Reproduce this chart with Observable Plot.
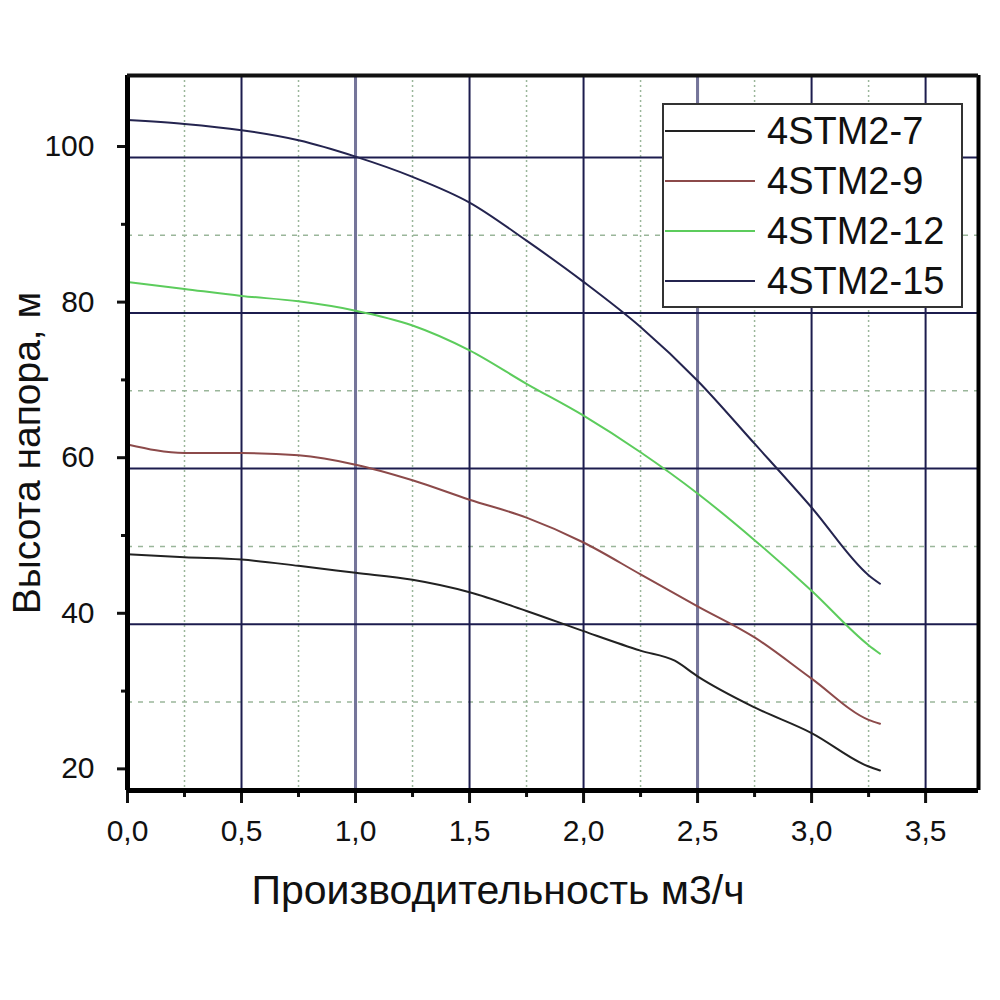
<!DOCTYPE html>
<html>
<head>
<meta charset="utf-8">
<script src="https://cdn.jsdelivr.net/npm/d3@7"></script>
<script src="https://cdn.jsdelivr.net/npm/@observablehq/plot@0.6"></script>
<style>
  body { margin: 0; background: #fff; font-family: "Liberation Sans", Arial, sans-serif; }
  #wrap { position: relative; width: 1000px; height: 1000px; }
  #legend { position: absolute; left: 662px; top: 103px; width: 297px; height: 201px;
            border: 2px solid #333; background: #fff; }
  .row { position: absolute; left: 0; width: 297px; height: 50px; }
  .row .ln { position: absolute; left: 1px; top: 24px; width: 90px; height: 2px; }
  .row .tx { position: absolute; left: 103px; top: 0; font-size: 38px; line-height: 50px; color: #111; white-space: nowrap; }
</style>
</head>
<body>
<div id="wrap"><div id="chart"></div><div id="legend"></div></div>
<script>
// ---- data ----
const models = ["4STM2-7", "4STM2-9", "4STM2-12", "4STM2-15"];
const colors = ["#222222", "#8c4a4a", "#5ccc5c", "#24244f"];

const flow = [0, 0.25, 0.5, 0.75, 1.0, 1.25, 1.5, 1.75, 2.0, 2.25, 2.5, 2.75, 3.0, 3.25, 3.3];
const flow7 = [0, 0.25, 0.5, 0.75, 1.0, 1.25, 1.5, 1.75, 2.0, 2.25, 2.4, 2.5, 2.75, 3.0, 3.25, 3.3];

const head7  = [47.6, 47.2, 46.9, 46.1, 45.2, 44.3, 42.7, 40.3, 37.7, 35.2, 33.9, 31.9, 27.9, 24.6, 20.3, 19.8];
const head9  = [61.7, 60.6, 60.6, 60.3, 59.1, 57.1, 54.6, 52.3, 49.1, 45.0, 40.9, 36.9, 31.6, 26.3, 25.8];
const head12 = [82.6, 81.7, 80.8, 80.1, 78.9, 77.0, 73.8, 69.5, 65.4, 60.7, 55.4, 49.4, 42.9, 35.9, 34.8];
const head15 = [103.4, 102.9, 102.1, 100.8, 98.7, 96.1, 92.8, 87.9, 82.6, 76.8, 69.9, 61.8, 53.6, 44.9, 43.8];

const xTicks = [0, 0.5, 1.0, 1.5, 2.0, 2.5, 3.0, 3.5];
const xMinorTicks = [0.25, 0.75, 1.25, 1.75, 2.25, 2.75, 3.25];
const yTicks = [20, 40, 60, 80, 100];
const yMinorTicks = [30, 50, 70, 90];
// grid lines in the reference are drawn slightly below the tick marks
const yGridMajor = [98.6, 78.6, 58.6, 38.6];
const yGridMinor = [88.6, 68.6, 48.6, 28.6];
const xGridBlurred = [1.0, 2.5];

const xDomain = [0, 3.732];
const yDomain = [17.22, 109.13];

const xTitle = "Производительность м3/ч";
const yTitle = "Высота напора, м";

// ---- build table ----
const rows = [];
const series = [[flow7, head7], [flow, head9], [flow, head12], [flow, head15]];
series.forEach(([qs, hs], i) => qs.forEach((q, j) => rows.push({model: models[i], q, h: hs[j]})));

const fmt = d => d.toFixed(1).replace(".", ",");
const font = "Liberation Sans, Arial, sans-serif";

const chart = Plot.plot({
  width: 1000, height: 1000,
  marginLeft: 127, marginRight: 22, marginTop: 75, marginBottom: 210,
  style: {fontFamily: font, fontSize: "30px", background: "#fff", color: "#111", overflow: "visible"},
  x: {domain: xDomain},
  y: {domain: yDomain},
  color: {domain: models, range: colors},
  marks: [
    Plot.ruleX(xMinorTicks, {stroke: "#9ab69a", strokeWidth: 1.5, strokeDasharray: "2,3"}),
    Plot.ruleY(yGridMinor, {stroke: "#9ab69a", strokeWidth: 1.5, strokeDasharray: "5,6"}),
    Plot.ruleX(xTicks.slice(1), {stroke: "#1c1c4e", strokeWidth: 2}),
    Plot.ruleX(xGridBlurred, {stroke: "#75759a", strokeWidth: 3}),
    Plot.ruleY(yGridMajor, {stroke: "#1c1c4e", strokeWidth: 2}),
    Plot.line(rows, {x: "q", y: "h", z: "model", stroke: "model", strokeWidth: 2, curve: "monotone-x"}),
    Plot.axisX({ticks: xTicks, tickSize: 13, tickPadding: 16, tickFormat: fmt, strokeWidth: 3, label: null}),
    Plot.axisX({ticks: xMinorTicks, tickSize: 7, text: null, strokeWidth: 3, label: null}),
    Plot.axisY({ticks: yTicks, tickSize: 10, tickPadding: 23, strokeWidth: 3, label: null}),
    Plot.axisY({ticks: yMinorTicks, tickSize: 6, text: null, strokeWidth: 3, label: null}),
    Plot.ruleX([xDomain[0]], {stroke: "#000", strokeWidth: 5}),
    Plot.ruleX([xDomain[1]], {stroke: "#000", strokeWidth: 4}),
    Plot.ruleY([yDomain[0]], {stroke: "#000", strokeWidth: 5}),
    Plot.ruleY([yDomain[1]], {stroke: "#111", strokeWidth: 4}),
    Plot.text([xTitle], {text: d => d, frameAnchor: "bottom", textAnchor: "middle", lineAnchor: "middle",
                         dx: -55, dy: 100, fontSize: 41, fill: "#111"}),
    Plot.text([yTitle], {text: d => d, frameAnchor: "left", textAnchor: "middle", lineAnchor: "middle",
                         rotate: -90, dx: -100, dy: 20, fontSize: 39, fill: "#111"})
  ]
});
document.getElementById("chart").appendChild(chart);

// ---- legend ----
const legend = document.getElementById("legend");
models.forEach((m, i) => {
  const r = document.createElement("div");
  r.className = "row";
  r.style.top = (1 + i * 50) + "px";
  r.innerHTML = `<div class="ln" style="background:${colors[i]}"></div><div class="tx">${m}</div>`;
  legend.appendChild(r);
});
</script>
</body>
</html>
